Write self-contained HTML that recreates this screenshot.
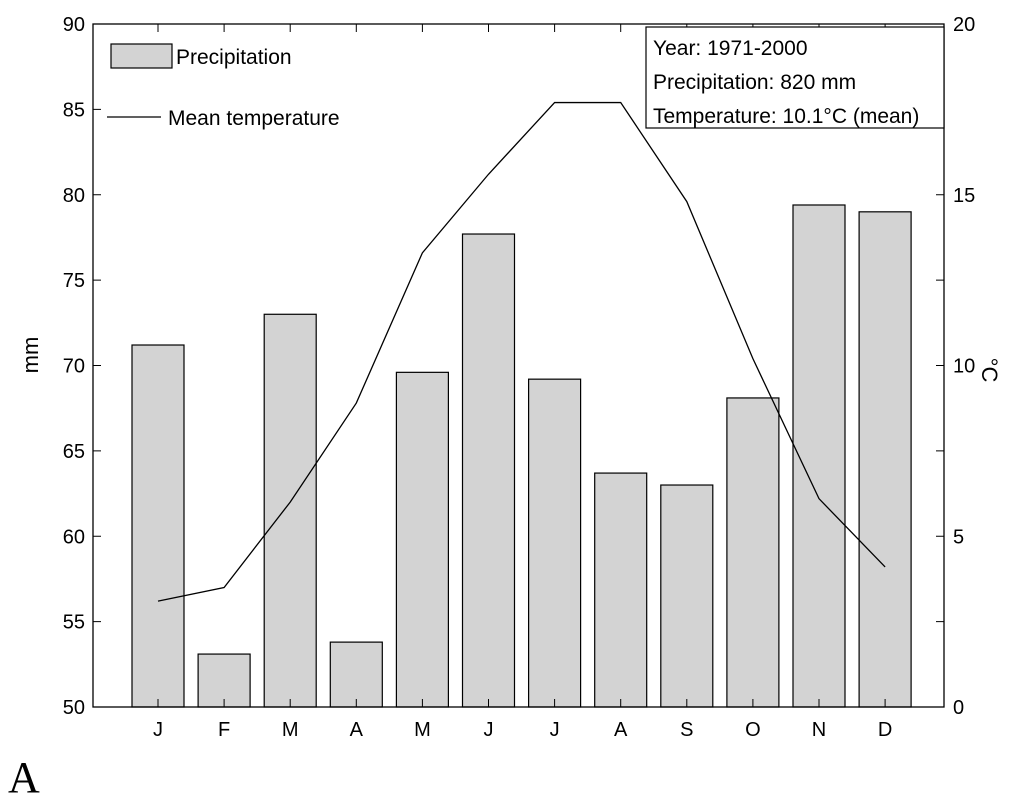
<!DOCTYPE html>
<html><head><meta charset="utf-8"><style>
body{margin:0;background:#fff;}
svg{display:block;font-family:"Liberation Sans",Arial,sans-serif;}
</style></head><body>
<svg id="chart" width="1024" height="805" viewBox="0 0 1024 805">
<rect x="0" y="0" width="1024" height="805" fill="#fff"/>
<g id="bars"></g>
<g id="axes"></g>
<polyline id="temp-line" fill="none" stroke="#000" stroke-width="1.3"/>
<g>
<rect x="111" y="44" width="61" height="24" fill="#d3d3d3" stroke="#000" stroke-width="1.2"/>
<text x="176" y="64" font-size="21">Precipitation</text>
<line x1="107" y1="117" x2="161" y2="117" stroke="#000" stroke-width="1.3"/>
<text x="168" y="125" font-size="21">Mean temperature</text>
</g>
<g>
<rect x="646" y="27" width="298" height="101" fill="#fff" stroke="#000" stroke-width="1.2"/>
<text x="653" y="55" font-size="21">Year: 1971-2000</text>
<text x="653" y="89" font-size="21">Precipitation: 820 mm</text>
<text x="653" y="123" font-size="21">Temperature: 10.1°C (mean)</text>
</g>
<text x="0" y="0" font-size="22" transform="translate(38,355) rotate(-90)" text-anchor="middle">mm</text>
<text x="0" y="0" font-size="22" transform="translate(982,370) rotate(90)" text-anchor="middle">°C</text>
<text x="8" y="792" font-size="44" font-family="Liberation Serif,serif">A</text>
</svg>
<script>
const months=["J","F","M","A","M","J","J","A","S","O","N","D"];
const precipitation=[71.2,53.1,73.0,53.8,69.6,77.7,69.2,63.7,63.0,68.1,79.4,79.0];
const temperature=[3.1,3.5,6.0,8.9,13.3,15.6,17.7,17.7,14.8,10.2,6.1,4.1];
const leftTicks=[50,55,60,65,70,75,80,85,90];
const rightTicks=[0,5,10,15,20];
const NS="http://www.w3.org/2000/svg";
const X0=93,X1=944,Y0=707,Y1=24;
const xS=i=>158+i*66.1;
const yL=v=>Y0-(v-50)/40*(Y0-Y1);
const yR=v=>Y0-v/20*(Y0-Y1);
function mk(tag,attrs,parent){const e=document.createElementNS(NS,tag);for(const k in attrs)e.setAttribute(k,attrs[k]);parent.appendChild(e);return e;}
const bars=document.getElementById('bars'),axes=document.getElementById('axes');
precipitation.forEach((v,i)=>{
 const r=mk('rect',{x:xS(i)-26,y:yL(v),width:52,height:Y0-yL(v),fill:'#d3d3d3',stroke:'#000','stroke-width':1.2},bars);
 
 
});
const fr=mk('rect',{x:X0,y:Y1,width:X1-X0,height:Y0-Y1,fill:'none',stroke:'#000','stroke-width':1.3},axes);


leftTicks.forEach(v=>{
 const y=yL(v);
 mk('line',{x1:X0,y1:y,x2:X0+8,y2:y,stroke:'#000'},axes);
 mk('line',{x1:X1,y1:y,x2:X1-8,y2:y,stroke:'#000'},axes);
 const t=mk('text',{x:X0-8,y:y+7,'font-size':20,'text-anchor':'end'},axes);
 t.textContent=v;
 
 
});
rightTicks.forEach(v=>{
 const t=mk('text',{x:X1+9,y:yR(v)+7,'font-size':20},axes);
 t.textContent=v;
 
 
});
months.forEach((m,i)=>{
 const x=xS(i);
 mk('line',{x1:x,y1:Y0,x2:x,y2:Y0-8,stroke:'#000'},axes);
 mk('line',{x1:x,y1:Y1,x2:x,y2:Y1+8,stroke:'#000'},axes);
 const t=mk('text',{x:x,y:Y0+29,'font-size':20,'text-anchor':'middle'},axes);
 t.textContent=m;
 
 
});
document.getElementById('temp-line').setAttribute('points',temperature.map((v,i)=>xS(i)+','+yR(v)).join(' '));
</script>
</body></html>
